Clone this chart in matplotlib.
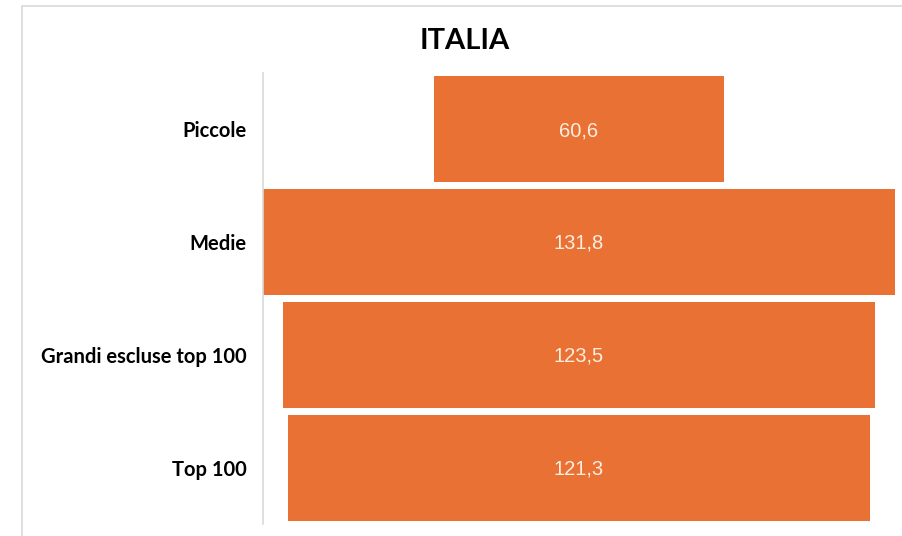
import matplotlib
matplotlib.use("Agg")
import matplotlib.pyplot as plt
from matplotlib.patches import Rectangle

title = "ITALIA"
categories = ["Piccole", "Medie", "Grandi escluse top 100", "Top 100"]
values = [60.6, 131.8, 123.5, 121.3]
value_labels = ["60,6", "131,8", "123,5", "121,3"]

W, H = 902, 536
fig = plt.figure(figsize=(W / 100, H / 100), dpi=100)
fig.patch.set_facecolor("white")

# outer frame (cropped chart area)
fig.patches.append(Rectangle((22 / W, -0.1), 1.2, (H - 6) / H + 0.1, transform=fig.transFigure,
                             fill=False, edgecolor="#d9d9d9", linewidth=1.2))

ax = fig.add_axes([263 / W, 1 - 524 / H, (895 - 263) / W, (524 - 73) / H])
vmax = max(values)
n = len(categories)
y = list(range(n))
lefts = [-v / 2 for v in values]
ax.barh(y, values, left=lefts, height=0.94, color="#E87133", edgecolor="none")
ax.set_xlim(-vmax / 2, vmax / 2)
ax.set_ylim(n - 0.5, -0.5)

for yi, lab in zip(y, value_labels):
    ax.text(0, yi + 0.01, lab, ha="center", va="center", color="#FDEEE2",
            fontsize=14.5, family="Liberation Sans")

ax.set_yticks(y)
ax.set_yticklabels(categories, fontsize=14.5, fontweight="bold", family="Lato")
ax.tick_params(axis="y", length=0, pad=12)
ax.set_xticks([])
for s in ["top", "right", "bottom"]:
    ax.spines[s].set_visible(False)
ax.spines["left"].set_color("#d9d9d9")
ax.spines["left"].set_linewidth(1.2)

fig.text(465 / W, 1 - 41 / H, title, ha="center", va="center", fontsize=21,
         fontweight="bold", family="Lato", color="black")

fig.savefig("out.png", dpi=100, facecolor="white")
